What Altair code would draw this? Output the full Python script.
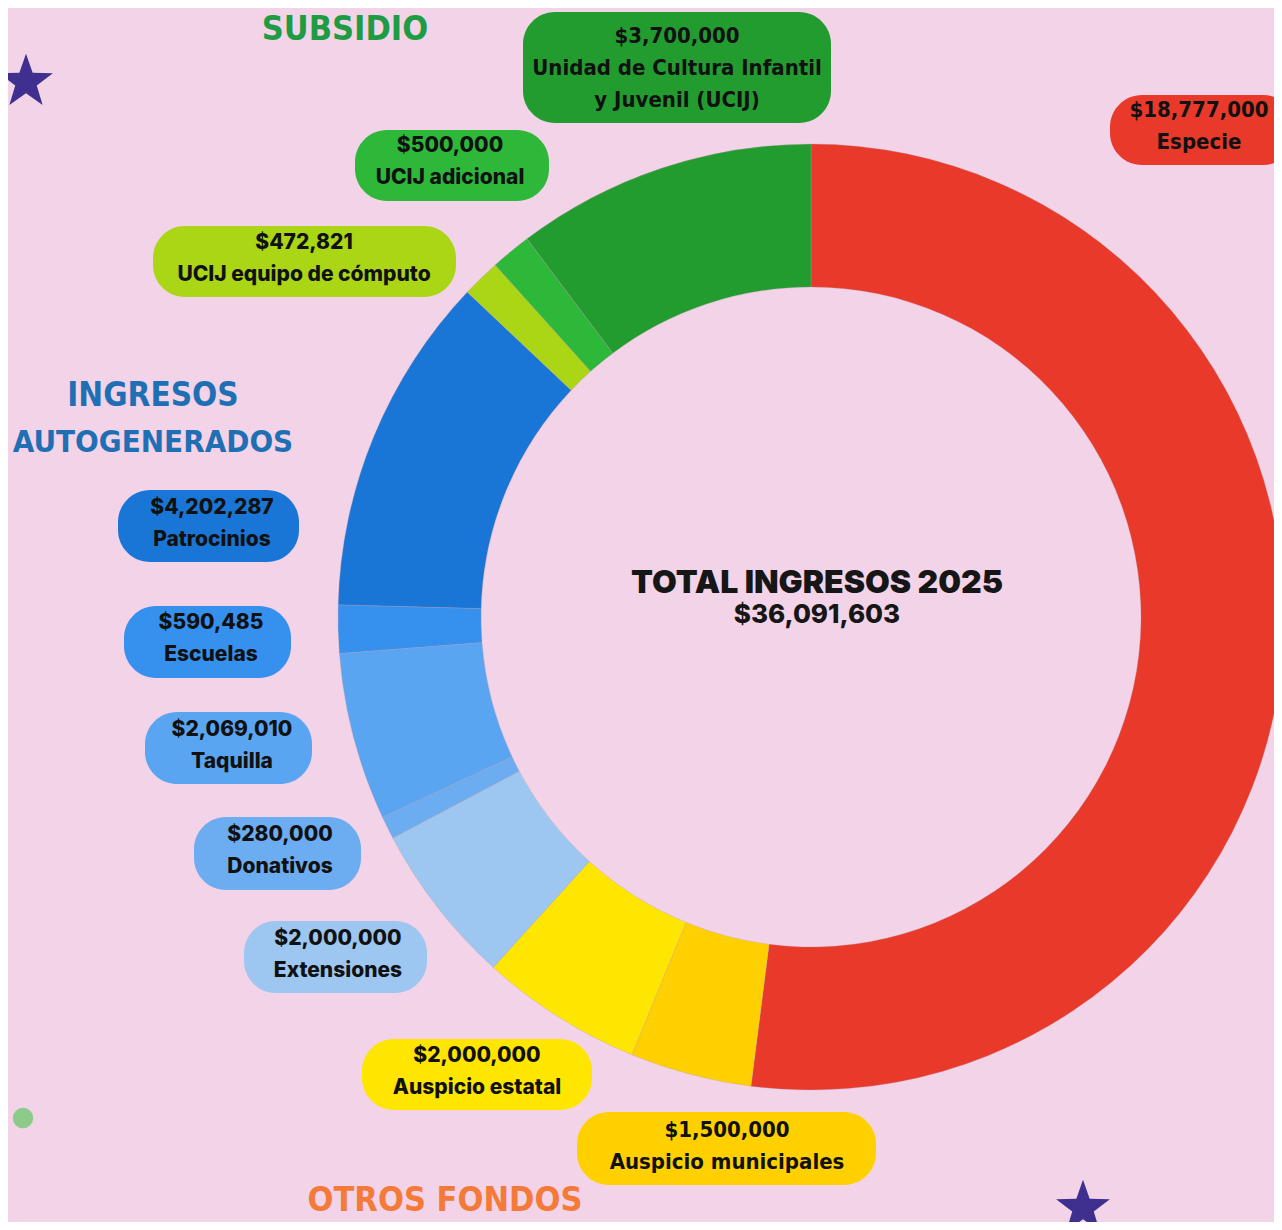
import altair as alt
import pandas as pd

# ---------------- data ----------------
categories = ["Especie", "Auspicio municipales", "Auspicio estatal", "Extensiones",
              "Donativos", "Taquilla", "Escuelas", "Patrocinios",
              "UCIJ equipo de cómputo", "UCIJ adicional",
              "Unidad de Cultura Infantil y Juvenil (UCIJ)"]
values = [18777000, 1500000, 2000000, 2000000, 280000, 2069010, 590485,
          4202287, 472821, 500000, 3700000]
colors = ["#E8392A", "#FFD000", "#FFE600", "#9DC6F0", "#6CACF0", "#5AA5F2",
          "#3690EE", "#1976D6", "#AAD615", "#2DB83A", "#229C2E"]
line2 = ["Especie", "Auspicio municipales", "Auspicio estatal", "Extensiones",
         "Donativos", "Taquilla", "Escuelas", "Patrocinios",
         "UCIJ equipo de cómputo", "UCIJ adicional", "Unidad de Cultura Infantil"]
line3 = ["", "", "", "", "", "", "", "", "", "", "y Juvenil (UCIJ)"]
condensed = [True, True, False, False, False, False, False, False, False, False, True]
total_title = "TOTAL INGRESOS 2025"
total_value = "$36,091,603"
group_titles = ["SUBSIDIO", "INGRESOS", "AUTOGENERADOS", "OTROS FONDOS"]

# ---------------- layout (page pixels) ----------------
OFF = 8  # page margin
box_x1 = [1110, 577, 362, 244, 194, 145, 124, 118, 153, 355, 523]
box_y1 = [95, 1112, 1039, 921, 817, 712, 606, 490, 226, 130, 12]
box_x2 = [1295, 876, 592, 427, 361, 312, 291, 299, 456, 549, 831]
box_y2 = [165, 1185, 1110, 993, 890, 784, 678, 562, 297, 201, 123]
text_cx = [1199, 727, 477, 338, 280, 232, 211, 212, 304, 450, 677]
text_y1 = [110, 1130, 1056, 939, 835, 730, 623, 508, 243, 146, 36]
CX, CY, R_OUT, R_IN = 811, 617, 473, 330

df = pd.DataFrame({
    "cat": categories,
    "value": values,
    "idx": list(range(len(categories))),
    "l1": ["$" + f"{v:,}" for v in values],
    "l2": line2,
    "l3": line3,
    "cond": condensed,
    "bx1": [v - OFF for v in box_x1],
    "by1": [v - OFF for v in box_y1],
    "bx2": [v - OFF for v in box_x2],
    "by2": [v - OFF for v in box_y2],
    "tx": [v - OFF for v in text_cx],
    "ty1": [v - OFF for v in text_y1],
})
df["ty2"] = df["ty1"] + 32
df["ty3"] = df["ty1"] + 64

color_scale = alt.Scale(domain=categories, range=colors)
base = alt.Chart(df)

donut = base.mark_arc(innerRadius=R_IN, outerRadius=R_OUT, x=CX - OFF, y=CY - OFF,
                      stroke="#b89aa8", strokeWidth=0.3).encode(
    theta=alt.Theta("value:Q", stack=True),
    order=alt.Order("idx:Q"),
    color=alt.Color("cat:N", scale=color_scale, legend=None),
)

boxes = base.mark_rect(cornerRadius=32).encode(
    x=alt.X("bx1:Q", scale=None, axis=None),
    x2="bx2:Q",
    y=alt.Y("by1:Q", scale=None, axis=None),
    y2="by2:Q",
    color=alt.Color("cat:N", scale=color_scale, legend=None),
)

def text_layer(field, yfield, cond, font, size, weight):
    return base.transform_filter(
        alt.datum.cond if cond else ~alt.datum.cond
    ).mark_text(font=font, fontSize=size, fontWeight=weight, color="#111111",
                align="center", baseline="middle").encode(
        x=alt.X("tx:Q", scale=None), y=alt.Y(yfield, scale=None), text=field)

REG = "Inter"
NAR = "DejaVu Sans Condensed"
texts = []
for cond, font, size, weight in [(False, REG, 21, 800), (True, NAR, 22, "bold")]:
    texts += [text_layer("l1:N", "ty1:Q", cond, font, size, weight),
              text_layer("l2:N", "ty2:Q", cond, font, size, weight),
              text_layer("l3:N", "ty3:Q", cond, font, size, weight)]

# group titles
titles_df = pd.DataFrame({
    "t": group_titles,
    "x": [345 - OFF, 153 - OFF, 153 - OFF, 445 - OFF],
    "y": [30 - OFF, 396 - OFF, 443 - OFF, 1201 - OFF],
    "s": [34, 33, 31, 34],
    "c": ["#1E9C44", "#1F6FB5", "#1F6FB5", "#F47A3A"],
})
titles = alt.Chart(titles_df).mark_text(
    font="DejaVu Sans Condensed", fontWeight="bold",
    align="center", baseline="middle").encode(
    x=alt.X("x:Q", scale=None), y=alt.Y("y:Q", scale=None), text="t:N",
    size=alt.Size("s:Q", scale=None, legend=None),
    color=alt.Color("c:N", scale=None))

center_t = alt.Chart(pd.DataFrame({"t": [total_title], "x": [817 - OFF], "y": [583 - OFF]})).mark_text(
    font="Inter", fontWeight=900, fontSize=32, color="#161616",
    align="center", baseline="middle").encode(
    x=alt.X("x:Q", scale=None), y=alt.Y("y:Q", scale=None), text="t:N")
center_v = alt.Chart(pd.DataFrame({"t": [total_value], "x": [817 - OFF], "y": [615 - OFF]})).mark_text(
    font="Inter", fontWeight=800, fontSize=26, color="#161616",
    align="center", baseline="middle").encode(
    x=alt.X("x:Q", scale=None), y=alt.Y("y:Q", scale=None), text="t:N")

# decorations (stars as symbol shapes, dot)
STAR = ("M0,-1 L0.235,-0.324 L0.951,-0.309 L0.38,0.124 L0.588,0.809 "
        "L0,0.4 L-0.588,0.809 L-0.38,0.124 L-0.951,-0.309 L-0.235,-0.324 Z")
deco_df = pd.DataFrame({"x": [26 - OFF, 1083 - OFF], "y": [82 - OFF, 1208 - OFF]})
stars = alt.Chart(deco_df).mark_point(shape=STAR, size=3200, filled=True,
                                      color="#3F2F8F", opacity=1).encode(
    x=alt.X("x:Q", scale=None), y=alt.Y("y:Q", scale=None))
dot_df = pd.DataFrame({"x": [23 - OFF], "y": [1118 - OFF]})
dot = alt.Chart(dot_df).mark_circle(size=420, color="#8DCB8A", opacity=1).encode(
    x=alt.X("x:Q", scale=None), y=alt.Y("y:Q", scale=None))

chart = alt.layer(donut, boxes, *texts, titles, center_t, center_v, stars, dot).properties(
    width=1266, height=1214, padding=0,
    autosize=alt.AutoSizeParams(type="none"),
    background="#F2D3E7",
).configure_view(stroke=None)

chart.save("out.html", embed_options={"renderer": "svg", "actions": False})
